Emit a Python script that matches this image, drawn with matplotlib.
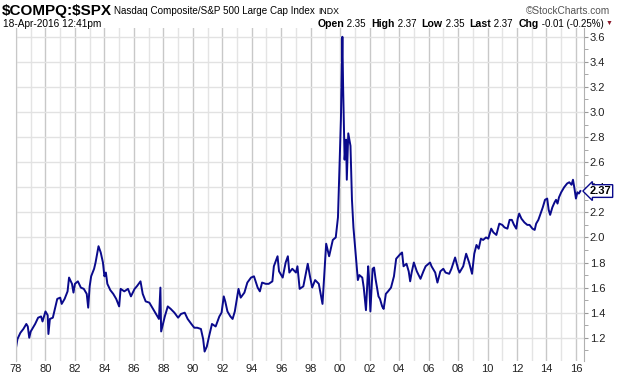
import matplotlib.pyplot as plt
from matplotlib.ticker import MultipleLocator

# Ratio data (year, value)
years = [1978.0, 1978.1, 1978.3, 1978.5, 1978.7, 1978.8, 1978.9, 1979.0, 1979.3, 1979.5,
         1979.7, 1979.8, 1980.0, 1980.15, 1980.2, 1980.3, 1980.5, 1980.8, 1981.0, 1981.1,
         1981.3, 1981.5, 1981.6, 1981.8, 1981.9, 1982.0, 1982.2, 1982.4, 1982.6, 1982.8,
         1982.9, 1983.0, 1983.1, 1983.3, 1983.4, 1983.6, 1983.75, 1983.9, 1984.0, 1984.1,
         1984.2, 1984.4, 1984.6, 1984.8, 1985.0, 1985.1, 1985.35, 1985.6, 1985.8, 1986.05,
         1986.2, 1986.45, 1986.6, 1986.8, 1987.05, 1987.25, 1987.5, 1987.7, 1987.8, 1987.85,
         1988.1, 1988.3, 1988.5, 1988.75, 1989.0, 1989.2, 1989.45, 1989.65, 1989.9, 1990.1,
         1990.3, 1990.55, 1990.7, 1990.8, 1990.95, 1991.1, 1991.3, 1991.55, 1991.8, 1991.95,
         1992.1, 1992.2, 1992.35, 1992.55, 1992.7, 1992.85, 1993.1, 1993.25, 1993.5, 1993.7,
         1993.95, 1994.15, 1994.4, 1994.55, 1994.7, 1994.95, 1995.15, 1995.4, 1995.5, 1995.75,
         1995.85, 1996.1, 1996.3, 1996.45, 1996.55, 1996.75, 1997.0, 1997.1, 1997.25, 1997.5,
         1997.8, 1997.95, 1998.1, 1998.3, 1998.55, 1998.8, 1998.95, 1999.05, 1999.25, 1999.5,
         1999.7, 1999.85, 1999.95, 2000.05, 2000.15, 2000.2, 2000.3, 2000.4, 2000.45, 2000.55,
         2000.7, 2000.8, 2000.9, 2001.05, 2001.2, 2001.3, 2001.5, 2001.6, 2001.75, 2001.9,
         2001.95, 2002.05, 2002.2, 2002.3, 2002.4, 2002.5, 2002.6, 2002.7, 2002.85, 2002.95,
         2003.1, 2003.25, 2003.45, 2003.65, 2003.8, 2003.95, 2004.1, 2004.2, 2004.3, 2004.5,
         2004.65, 2004.75, 2004.85, 2005.0, 2005.2, 2005.45, 2005.65, 2005.8, 2006.0, 2006.1,
         2006.2, 2006.45, 2006.6, 2006.8, 2007.0, 2007.15, 2007.4, 2007.55, 2007.8, 2008.0,
         2008.1, 2008.35, 2008.55, 2008.75, 2008.9, 2008.95, 2009.1, 2009.25, 2009.4, 2009.55,
         2009.7, 2009.9, 2010.05, 2010.25, 2010.4, 2010.6, 2010.8, 2011.0, 2011.15, 2011.35,
         2011.5, 2011.65, 2011.8, 2011.95, 2012.05, 2012.15, 2012.3, 2012.5, 2012.7, 2012.85,
         2013.05, 2013.2, 2013.3, 2013.45, 2013.6, 2013.75, 2013.9, 2014.05, 2014.15, 2014.25,
         2014.4, 2014.55, 2014.65, 2014.75, 2014.85, 2015.0, 2015.2, 2015.4, 2015.55, 2015.7,
         2015.8, 2015.9, 2016.0, 2016.1, 2016.2, 2016.3]
ratio = [1.12, 1.19, 1.24, 1.27, 1.31, 1.29, 1.20, 1.25, 1.31, 1.36,
         1.37, 1.33, 1.41, 1.38, 1.23, 1.35, 1.36, 1.51, 1.52, 1.47,
         1.51, 1.57, 1.68, 1.63, 1.56, 1.63, 1.65, 1.60, 1.59, 1.55,
         1.44, 1.61, 1.69, 1.75, 1.80, 1.93, 1.88, 1.80, 1.69, 1.72,
         1.63, 1.58, 1.55, 1.51, 1.45, 1.59, 1.57, 1.59, 1.53, 1.59,
         1.61, 1.65, 1.55, 1.49, 1.48, 1.44, 1.39, 1.35, 1.60, 1.25,
         1.37, 1.45, 1.43, 1.40, 1.36, 1.39, 1.40, 1.35, 1.31, 1.28,
         1.28, 1.27, 1.19, 1.09, 1.13, 1.21, 1.31, 1.29, 1.37, 1.40,
         1.53, 1.49, 1.41, 1.37, 1.35, 1.41, 1.59, 1.52, 1.56, 1.64,
         1.68, 1.69, 1.60, 1.57, 1.64, 1.63, 1.63, 1.65, 1.77, 1.85,
         1.73, 1.68, 1.80, 1.85, 1.72, 1.75, 1.72, 1.77, 1.59, 1.61,
         1.79, 1.69, 1.60, 1.66, 1.63, 1.47, 1.76, 1.95, 1.85, 1.98,
         2.00, 2.16, 2.54, 2.94, 3.60, 3.20, 2.62, 2.78, 2.46, 2.83,
         2.73, 2.30, 2.08, 1.87, 1.66, 1.70, 1.68, 1.60, 1.42, 1.77,
         1.69, 1.41, 1.75, 1.76, 1.67, 1.60, 1.53, 1.51, 1.45, 1.43,
         1.55, 1.57, 1.60, 1.69, 1.83, 1.85, 1.87, 1.88, 1.77, 1.79,
         1.73, 1.65, 1.72, 1.80, 1.73, 1.67, 1.73, 1.77, 1.79, 1.80,
         1.77, 1.72, 1.64, 1.73, 1.75, 1.72, 1.71, 1.75, 1.84, 1.75,
         1.72, 1.77, 1.87, 1.80, 1.73, 1.71, 1.87, 1.94, 1.91, 1.99,
         1.98, 2.00, 1.99, 2.07, 2.04, 2.02, 2.11, 2.10, 2.08, 2.07,
         2.14, 2.14, 2.10, 2.07, 2.15, 2.19, 2.15, 2.12, 2.10, 2.10,
         2.07, 2.06, 2.11, 2.14, 2.19, 2.24, 2.30, 2.31, 2.22, 2.18,
         2.24, 2.28, 2.30, 2.27, 2.32, 2.36, 2.40, 2.43, 2.44, 2.42,
         2.46, 2.39, 2.31, 2.36, 2.35, 2.37]

x_ticks = list(range(1978, 2017, 2))
x_labels = ["%02d" % (y % 100) for y in x_ticks]
y_ticks = [1.2, 1.4, 1.6, 1.8, 2.0, 2.2, 2.4, 2.6, 2.8, 3.0, 3.2, 3.4, 3.6]
last_value = 2.37

plt.rcParams['font.family'] = ['Liberation Sans', 'DejaVu Sans']

fig = plt.figure(figsize=(6.2, 3.76), dpi=100)
ax = fig.add_axes([0.0258, 0.04, 0.9162, 0.8855])

line_color = '#0a0a8c'
ax.plot(years, ratio, color=line_color, linewidth=1.4)

ax.set_xlim(1978.0, 2016.55)
ax.set_ylim(1.015, 3.67)

# Grid: darker on even years, lighter on odd years
ax.set_xticks(x_ticks)
ax.set_xticklabels(x_labels)
ax.xaxis.set_minor_locator(MultipleLocator(1))
ax.grid(which='major', axis='x', color='#c8c8c8', linewidth=1)
ax.grid(which='minor', axis='x', color='#e4e4e4', linewidth=1)
ax.set_yticks(y_ticks)
ax.set_yticklabels(["%.1f" % v for v in y_ticks])
ax.yaxis.set_minor_locator(MultipleLocator(0.1))
ax.grid(which='major', axis='y', color='#e2e2e2', linewidth=1)
ax.set_axisbelow(True)

ax.yaxis.tick_right()
ax.tick_params(axis='y', which='both', direction='out', length=3, color='#999999',
               labelsize=8, labelcolor='#222222', pad=1)
ax.tick_params(axis='x', which='major', direction='out', length=0,
               labelsize=8, labelcolor='#222222', pad=2)
ax.tick_params(axis='x', which='minor', length=0)

for side in ['top', 'bottom']:
    ax.spines[side].set_visible(False)
ax.spines['right'].set_color('#b0b0b0')
ax.spines['left'].set_color('#c8c8c8')

# Last value tag
ax.annotate("%.2f" % last_value, xy=(1.0, last_value), xycoords=('axes fraction', 'data'),
            xytext=(4, 0), textcoords='offset points', va='center', ha='left',
            fontsize=8, fontweight='bold', color='black', zorder=10,
            bbox=dict(boxstyle='larrow,pad=0.12', fc='white', ec=line_color, lw=1))

# Header text
fig.text(0.003, 0.972, r"\$COMPQ:\$SPX", fontsize=11, fontweight='bold', va='center')
fig.text(0.184, 0.970, "Nasdaq Composite/S&P 500 Large Cap Index", fontsize=7.1, va='center')
fig.text(0.513, 0.970, "INDX", fontsize=6.3, va='center')
fig.text(0.984, 0.970, "\u00a9StockCharts.com", fontsize=7.3, va='center', ha='right',
         color='#555555')
fig.text(0.005, 0.937, "18-Apr-2016 12:41pm", fontsize=7.3, va='center')

parts = [("Open", True), (" 2.35  ", False), ("High", True), (" 2.37  ", False),
         ("Low", True), (" 2.35  ", False), ("Last", True), (" 2.37  ", False),
         ("Chg", True), (" -0.01 (-0.25%)", False)]
renderer = fig.canvas.get_renderer()
texts = []
total = 0.0
for txt, bold in parts:
    t = fig.text(0, 0.937, txt, fontsize=7.6 if bold else 7.0,
                 fontweight='bold' if bold else 'normal', va='center')
    w = t.get_window_extent(renderer=renderer).width / fig.bbox.width
    texts.append((t, w))
    total += w
xpos = 0.973 - total
for t, w in texts:
    t.set_x(xpos)
    xpos += w
fig.text(xpos + 0.004, 0.939, "\u25bc", fontsize=5, color='#8b1a2b', va='center')

fig.savefig('out.png', dpi=100)
